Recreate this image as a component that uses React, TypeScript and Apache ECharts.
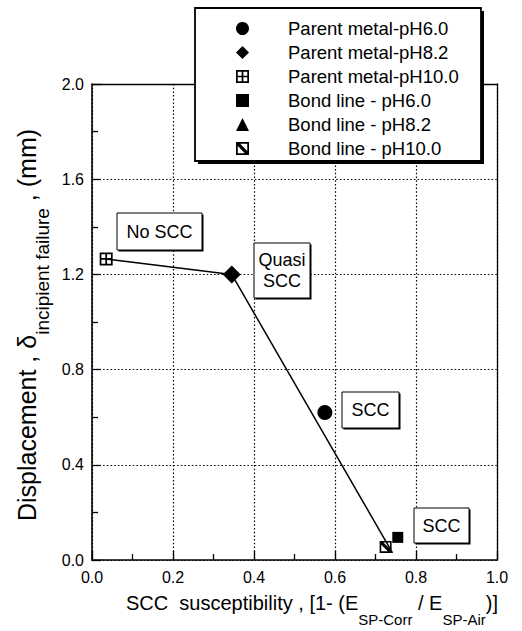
import React, { useEffect, useRef } from "react";
import * as echarts from "echarts";

const FONT = "'Liberation Sans', Arial, Helvetica, sans-serif";

const seriesNames = [
  "Parent metal-pH6.0",
  "Parent metal-pH8.2",
  "Parent metal-pH10.0",
  "Bond line - pH6.0",
  "Bond line - pH8.2",
  "Bond line - pH10.0",
];

// [SCC susceptibility, displacement (mm)]
const parentPH60 = [[0.575, 0.62]];
const parentPH82 = [[0.345, 1.2]];
const parentPH100 = [[0.035, 1.265]];
const bondPH60 = [[0.755, 0.095]];
const bondPH82: number[][] = [];
const bondPH100 = [[0.725, 0.055]];
const trendLine = [
  [0.035, 1.265],
  [0.345, 1.2],
  [0.742, 0.03],
];

const xTickLabels = ["0.0", "0.2", "0.4", "0.6", "0.8", "1.0"];
const yTickLabels = ["0.0", "0.4", "0.8", "1.2", "1.6", "2.0"];

const annotations = [
  { text: "No SCC", x: 117, y: 213, w: 85, h: 37 },
  { text: "Quasi\nSCC", x: 254, y: 243, w: 56, h: 55 },
  { text: "SCC", x: 342, y: 392, w: 57, h: 36 },
  { text: "SCC", x: 414, y: 508, w: 55, h: 35 },
];

const crossSquare =
  "path://M0 0H12V12H0Z M1.6 1.6V5.2H5.2V1.6Z M6.8 1.6V5.2H10.4V1.6Z M1.6 6.8V10.4H5.2V6.8Z M6.8 6.8V10.4H10.4V6.8Z";
const hatchSquare = "path://M0 0H12V12H0Z M3.8 1.6L10.4 8.2V1.6Z M1.6 3.8V10.4H8.2Z";

const symbols = ["circle", "diamond", crossSquare, "rect", "triangle", hatchSquare];
const symbolSizes = [15, 18, 13, 11, 13, 12];
const seriesData = [parentPH60, parentPH82, parentPH100, bondPH60, bondPH82, bondPH100];

export default function App() {
  const ref = useRef<HTMLDivElement>(null);
  useEffect(() => {
    if (!ref.current) return;
    const chart = echarts.init(ref.current, undefined, { renderer: "svg" });
    const black = "#000";
    const dotted = { color: black, width: 1.2, type: [1.5, 2.2] as any };

    const graphics: any[] = [];
    // legend box (shadow + box)
    graphics.push({
      type: "rect",
      z: 10,
      shape: { x: 198, y: 11, width: 286, height: 153 },
      style: { fill: black },
    });
    graphics.push({
      type: "rect",
      z: 11,
      shape: { x: 195, y: 8, width: 286, height: 153 },
      style: { fill: "#fff", stroke: black, lineWidth: 1.8 },
    });
    annotations.forEach((a) => {
      graphics.push({
        type: "rect",
        z: 10,
        shape: { x: a.x + 1.5, y: a.y + 1.5, width: a.w, height: a.h },
        style: { fill: black },
      });
      graphics.push({
        type: "rect",
        z: 11,
        shape: { x: a.x, y: a.y, width: a.w, height: a.h },
        style: { fill: "#fff", stroke: black, lineWidth: 1 },
      });
      graphics.push({
        type: "text",
        z: 12,
        x: a.x + a.w / 2,
        y: a.y + a.h / 2,
        style: {
          text: a.text,
          fill: black,
          font: `18px ${FONT}`,
          fontSize: 18,
          fontFamily: FONT,
          lineHeight: 21,
          align: "center",
          verticalAlign: "middle",
          textAlign: "center",
          textVerticalAlign: "middle",
        },
      });
    });
    // x-axis title
    graphics.push({
      type: "text",
      z: 12,
      x: 312,
      y: 603,
      style: {
        text: "{a|SCC  susceptibility , [1- (E}{s|SP-Corr}{a| / E}{s|SP-Air}{a|)]}",
        rich: {
          a: { fontSize: 20, fontFamily: FONT, lineHeight: 26, fill: black, color: black },
          s: { fontSize: 15, fontFamily: FONT, lineHeight: 26, padding: [33, 0, 0, 0], fill: black, color: black },
        },
        fill: black,
        align: "center",
        verticalAlign: "middle",
        textAlign: "center",
        textVerticalAlign: "middle",
      },
    });
    // y-axis title
    graphics.push({
      type: "text",
      z: 12,
      x: 27,
      y: 325,
      rotation: Math.PI / 2,
      style: {
        text: "{a|Displacement , δ}{s|incipient failure}{a| , (mm)}",
        rich: {
          a: { fontSize: 25, fontFamily: FONT, lineHeight: 32, fill: black, color: black },
          s: { fontSize: 19, fontFamily: FONT, lineHeight: 32, padding: [30, 0, 0, 0], fill: black, color: black },
        },
        fill: black,
        align: "center",
        verticalAlign: "middle",
        textAlign: "center",
        textVerticalAlign: "middle",
      },
    });

    const scatterSeries = seriesNames.map((name, i) => ({
      name,
      type: "scatter",
      data: seriesData[i],
      symbol: symbols[i],
      symbolSize: symbolSizes[i],
      itemStyle: { color: black, opacity: 1 },
      z: 5,
    }));

    chart.setOption({
      animation: false,
      backgroundColor: "#fff",
      grid: { left: 92, top: 84, width: 405, height: 476 },
      legend: {
        data: seriesNames.map((n, i) => ({ name: n, icon: symbols[i] })),
        orient: "vertical",
        left: 236,
        top: 19,
        padding: 0,
        itemWidth: 13,
        itemHeight: 13,
        itemGap: 5,
        selectedMode: false,
        z: 20,
        textStyle: {
          color: black,
          fontSize: 18.5,
          fontFamily: FONT,
          rich: { g: { width: 34 } },
        },
        formatter: (name: string) => "{g|}" + name,
      },
      xAxis: [
        {
          type: "value",
          min: 0,
          max: 1,
          interval: 0.2,
          position: "bottom",
          axisLine: { show: true, onZero: false, lineStyle: { color: black, width: 1.6 } },
          axisTick: { show: true, inside: true, length: 9, lineStyle: { color: black, width: 1.3 } },
          minorTick: { show: true, splitNumber: 2, length: 6, lineStyle: { color: black, width: 1.3 } },
          axisLabel: {
            color: black,
            fontSize: 16,
            fontFamily: FONT,
            margin: 9,
            formatter: (_v: number, i: number) => xTickLabels[i],
          },
          splitLine: { show: true, lineStyle: dotted },
        },
        {
          type: "value",
          min: 0,
          max: 1,
          position: "top",
          axisLine: { show: true, onZero: false, lineStyle: { color: black, width: 1.3 } },
          axisTick: { show: false },
          axisLabel: { show: false },
          splitLine: { show: false },
        },
      ],
      yAxis: [
        {
          type: "value",
          min: 0,
          max: 2,
          interval: 0.4,
          position: "left",
          axisLine: { show: true, onZero: false, lineStyle: { color: black, width: 1.6 } },
          axisTick: { show: true, inside: true, length: 9, lineStyle: { color: black, width: 1.3 } },
          minorTick: { show: true, splitNumber: 2, length: 6, lineStyle: { color: black, width: 1.3 } },
          axisLabel: {
            color: black,
            fontSize: 16,
            fontFamily: FONT,
            margin: 8,
            formatter: (_v: number, i: number) => yTickLabels[i],
          },
          splitLine: { show: true, lineStyle: dotted },
        },
        {
          type: "value",
          min: 0,
          max: 2,
          position: "right",
          axisLine: { show: true, onZero: false, lineStyle: { color: black, width: 1.3 } },
          axisTick: { show: false },
          axisLabel: { show: false },
          splitLine: { show: false },
        },
      ],
      graphic: graphics,
      series: [
        {
          name: "trend",
          type: "line",
          data: trendLine,
          symbol: "none",
          lineStyle: { color: black, width: 1.5 },
          z: 3,
          silent: true,
        },
        ...scatterSeries,
      ],
    });
    return () => chart.dispose();
  }, []);
  return (
    <div
      ref={ref}
      style={{ position: "absolute", left: 0, top: 0, width: 522, height: 631 }}
    />
  );
}
